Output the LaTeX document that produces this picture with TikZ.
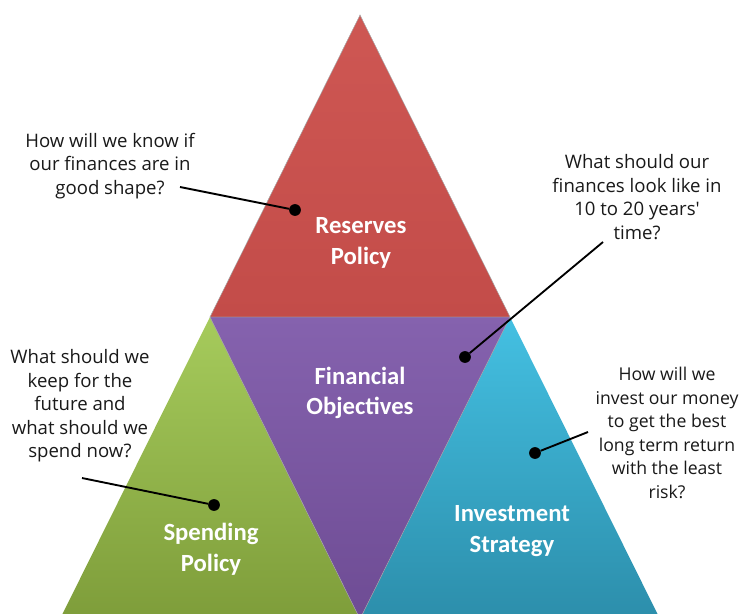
\documentclass[tikz,border=0pt]{standalone}
\usepackage{fontspec}
\setmainfont{Carlito}
\newfontfamily\handfont{Open Sans}
\usetikzlibrary{positioning}
\definecolor{rsvtop}{HTML}{CE5753}
\definecolor{rsvbot}{HTML}{C34C49}
\definecolor{objtop}{HTML}{8562AE}
\definecolor{objbot}{HTML}{6E4C94}
\definecolor{spdtop}{HTML}{A6CB5C}
\definecolor{spdbot}{HTML}{7E9D3A}
\definecolor{invtop}{HTML}{44C0E2}
\definecolor{invbot}{HTML}{2C8EAB}
\tikzset{
  lbl/.style={font=\fontsize{21}{26}\selectfont\bfseries,text=white,align=center,inner sep=0pt},
  note/.style={font=\handfont\fontsize{15.8}{20}\selectfont,align=center,text=black!90,inner sep=0pt},
  pin/.style={circle,fill=black,inner sep=0pt,minimum size=10pt},
  lead/.style={line width=1.6pt,draw=black},
  edge/.style={draw=black!35,line width=0.4pt},
}
\begin{document}
\begin{tikzpicture}[x=0.85pt,y=-0.85pt]
\clip (0,0) rectangle (740,613);
\fill[white] (0,0) rectangle (740,613);
% corners of the pyramid
\coordinate (apex) at (360,15);
\coordinate (ml) at (210,317);
\coordinate (mr) at (510,317);
\coordinate (bl) at (60,619);
\coordinate (bm) at (360,619);
\coordinate (br) at (660,619);
% the four triangles
\shade[top color=rsvtop,bottom color=rsvbot] (apex) -- (mr) -- (ml) -- cycle;
\shade[top color=spdtop,bottom color=spdbot] (ml) -- (bm) -- (bl) -- cycle;
\shade[top color=invtop,bottom color=invbot] (mr) -- (br) -- (bm) -- cycle;
\shade[top color=objtop,bottom color=objbot] (ml) -- (mr) -- (bm) -- cycle;
\draw[edge] (apex) -- (mr) -- (ml) -- cycle;
\draw[edge] (ml) -- (mr) -- (bm) -- cycle;

\node[lbl] (reserves) at (361,243) {Reserves\\Policy};
\node[lbl] (objectives) at (360,393) {Financial\\Objectives};
\node[lbl] (spending) at (211,549) {Spending\\Policy};
\node[lbl] (investment) at (512,531) {Investment\\Strategy};

% questions
\node[note] (qshape) at (110,166) {How will we know if\\our finances are in\\good shape?};
\node[note] (qfuture) at (637,197) {What should our\\finances look like in\\10 to 20 years'\\time?};
\node[note] (qkeep) at (80,406) {What should we\\keep for the\\future and\\what should we\\spend now?};
\node[note,font=\handfont\fontsize{15}{20}\selectfont] (qinvest) at (667,433) {How will we\\invest our money\\to get the best\\long term return\\with the least\\risk?};

\coordinate (sshape) at (180,187);
\coordinate (sfuture) at (603,242);
\coordinate (skeep) at (82,478);
\coordinate (sinvest) at (588,432);

\node[pin] (dshape) at (295,210) {};
\node[pin] (dfuture) at (465,357) {};
\node[pin] (dkeep) at (214,505) {};
\node[pin] (dinvest) at (535,453) {};

\draw[lead] (sshape) -- (dshape);
\draw[lead] (sfuture) -- (dfuture);
\draw[lead] (skeep) -- (dkeep);
\draw[lead] (sinvest) -- (dinvest);
\end{tikzpicture}
\end{document}
